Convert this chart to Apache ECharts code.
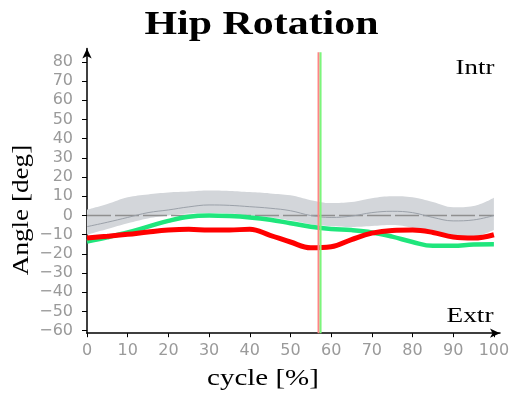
<!DOCTYPE html>
<html>
<head>
<meta charset="utf-8">
<script src="https://cdn.jsdelivr.net/npm/echarts@6/dist/echarts.min.js"></script>
<style>
  html, body { margin: 0; padding: 0; background: #fff; }
  #chart { width: 517px; height: 394px; }
</style>
</head>
<body>
<div id="chart"></div>
<script>
// Gait cycle sample points (% of cycle)
const cyclePct = [0, 5, 10, 15, 20, 25, 30, 35, 40, 45, 50, 55, 60, 65, 70, 75, 80, 85, 90, 95, 100];

// Left (red) and right (green) hip rotation, degrees
const leftHip  = [-11.7, -10.8, -9.8, -8.6, -7.6, -7.2, -7.6, -7.6, -7.1, -10.3, -13.8, -16.8, -16.3, -12.5, -9.2, -7.8, -7.6, -8.8, -11.2, -11.7, -10.0];
const rightHip = [-13.5, -11.3, -8.8, -5.8, -2.8, -0.6, 0.0, -0.3, -1.0, -2.2, -4.0, -5.8, -7.0, -7.6, -8.8, -11.0, -13.8, -15.8, -15.8, -15.1, -15.0];

// Reference (normative) mean and band limits
const normMean  = [-5.8, -3.5, -1.0, 1.5, 2.9, 4.5, 5.5, 5.3, 4.6, 3.8, 2.5, 0.0, -1.0, -0.3, 1.5, 2.2, 1.5, -1.0, -2.8, -2.3, 0.0];
const normUpper = [3.0, 6.0, 9.5, 11.0, 12.0, 12.5, 13.0, 12.8, 12.2, 11.5, 10.5, 8.0, 6.5, 7.0, 9.0, 10.0, 9.5, 7.0, 4.3, 5.0, 9.3];
const normLower = [-10.0, -7.0, -4.0, -1.5, 0.0, 1.0, 1.3, 1.0, 0.0, -1.0, -2.5, -4.5, -5.5, -6.0, -5.5, -5.0, -6.5, -9.5, -11.5, -11.0, -7.5];

// Toe-off events (% of cycle)
const toeOffLeft = 56.9;
const toeOffRight = 57.4;

// Tick values
const xTicks = [0, 10, 20, 30, 40, 50, 60, 70, 80, 90, 100];
const yTicks = [-60, -50, -40, -30, -20, -10, 0, 10, 20, 30, 40, 50, 60, 70, 80];

const Y_MIN = -61.3, Y_MAX = 87, X_MAX = 101.5, EVENT_TOP = 85;

const pair = (xs, ys) => xs.map((x, i) => [x, ys[i]]);
// Band rows are [value, pct] so the stack runs on the angle dimension
const bandRows = (vals) => vals.map((v, i) => [v, cyclePct[i]]);
const bandWidth = normUpper.map((u, i) => u - normLower[i]);

const serif = 'Liberation Serif';
const tickFont = { fontFamily: 'DejaVu Sans', fontSize: 16, color: '#9a9a9a' };

const chart = echarts.init(document.getElementById('chart'), null, { renderer: 'canvas' });

chart.setOption({
  animation: false,
  backgroundColor: '#ffffff',
  grid: { left: 87, right: 17, top: 48.5, bottom: 60.8, containLabel: false },
  xAxis: {
    type: 'value',
    min: 0, max: X_MAX,
    axisLine: { onZero: false, lineStyle: { color: '#000', width: 1.5 }, symbol: ['none', 'arrow'], symbolSize: [7, 10] },
    axisTick: { show: true, length: 4, customValues: xTicks, lineStyle: { color: '#000' } },
    axisLabel: { customValues: xTicks, margin: 10, ...tickFont },
    splitLine: { show: false }
  },
  yAxis: {
    type: 'value',
    min: Y_MIN, max: Y_MAX,
    axisLine: { onZero: false, lineStyle: { color: '#000', width: 1.5 }, symbol: ['none', 'arrow'], symbolSize: [7, 10] },
    axisTick: { show: true, length: 5, customValues: yTicks, lineStyle: { color: '#000' } },
    axisLabel: {
      customValues: yTicks, margin: 14, padding: [0, 0, 8, 0], ...tickFont,
      formatter: v => (v < 0 ? '\u2212' + (-v) : String(v))
    },
    splitLine: { show: false }
  },
  series: [
    {
      type: 'line', stack: 'norm', stackStrategy: 'all', data: bandRows(normLower),
      dimensions: ['deg', 'pct'], encode: { x: 'pct', y: 'deg' },
      smooth: 0.4, symbol: 'none', lineStyle: { opacity: 0 }, silent: true, z: 1
    },
    {
      type: 'line', stack: 'norm', stackStrategy: 'all', data: bandRows(bandWidth),
      dimensions: ['deg', 'pct'], encode: { x: 'pct', y: 'deg' },
      smooth: 0.4, symbol: 'none', lineStyle: { opacity: 0 },
      areaStyle: { color: '#d3d6da', opacity: 1 }, silent: true, z: 1
    },
    {
      type: 'line', data: [[0, 0], [100, 0]], symbol: 'none',
      lineStyle: { color: '#8f8f8f', width: 1.5, type: [24, 4] }, z: 2
    },
    {
      type: 'line', data: pair(cyclePct, normMean), smooth: 0.4, symbol: 'none',
      lineStyle: { color: '#9ba1a9', width: 1 }, z: 3
    },
    {
      type: 'line', data: pair(cyclePct, rightHip), smooth: 0.4, symbol: 'none',
      lineStyle: { color: '#1fe67c', width: 4.5 }, z: 4
    },
    {
      type: 'line', data: pair(cyclePct, leftHip), smooth: 0.4, symbol: 'none',
      lineStyle: { color: '#ff0000', width: 5 }, z: 5
    },
    {
      type: 'line', data: [[toeOffLeft, Y_MIN], [toeOffLeft, EVENT_TOP]], symbol: 'none',
      lineStyle: { color: '#ff8585', width: 2 }, z: 6
    },
    {
      type: 'line', data: [[toeOffRight, Y_MIN], [toeOffRight, EVENT_TOP]], symbol: 'none',
      lineStyle: { color: '#7cf57c', width: 2 }, z: 6
    }
  ],
  graphic: [
    {
      type: 'text', x: 261.5, y: 25, scaleX: 1.27, z: 100,
      style: { text: 'Hip Rotation', font: 'bold 33px "' + serif + '"', fill: '#000', align: 'center', verticalAlign: 'middle' }
    },
    {
      type: 'text', x: 263, y: 379, scaleX: 1.26, z: 100,
      style: { text: 'cycle [%]', font: '23px "' + serif + '"', fill: '#000', align: 'center', verticalAlign: 'middle' }
    },
    {
      type: 'text', x: 22, y: 210, rotation: Math.PI / 2, scaleX: 1.18, z: 100,
      style: { text: 'Angle [deg]', font: '23px "' + serif + '"', fill: '#000', align: 'center', verticalAlign: 'middle' }
    },
    {
      type: 'text', x: 475, y: 68.5, scaleX: 1.22, z: 100,
      style: { text: 'Intr', font: '22px "' + serif + '"', fill: '#000', align: 'center', verticalAlign: 'middle' }
    },
    {
      type: 'text', x: 470, y: 316, scaleX: 1.24, z: 100,
      style: { text: 'Extr', font: '22px "' + serif + '"', fill: '#000', align: 'center', verticalAlign: 'middle' }
    }
  ]
});
</script>
</body>
</html>
